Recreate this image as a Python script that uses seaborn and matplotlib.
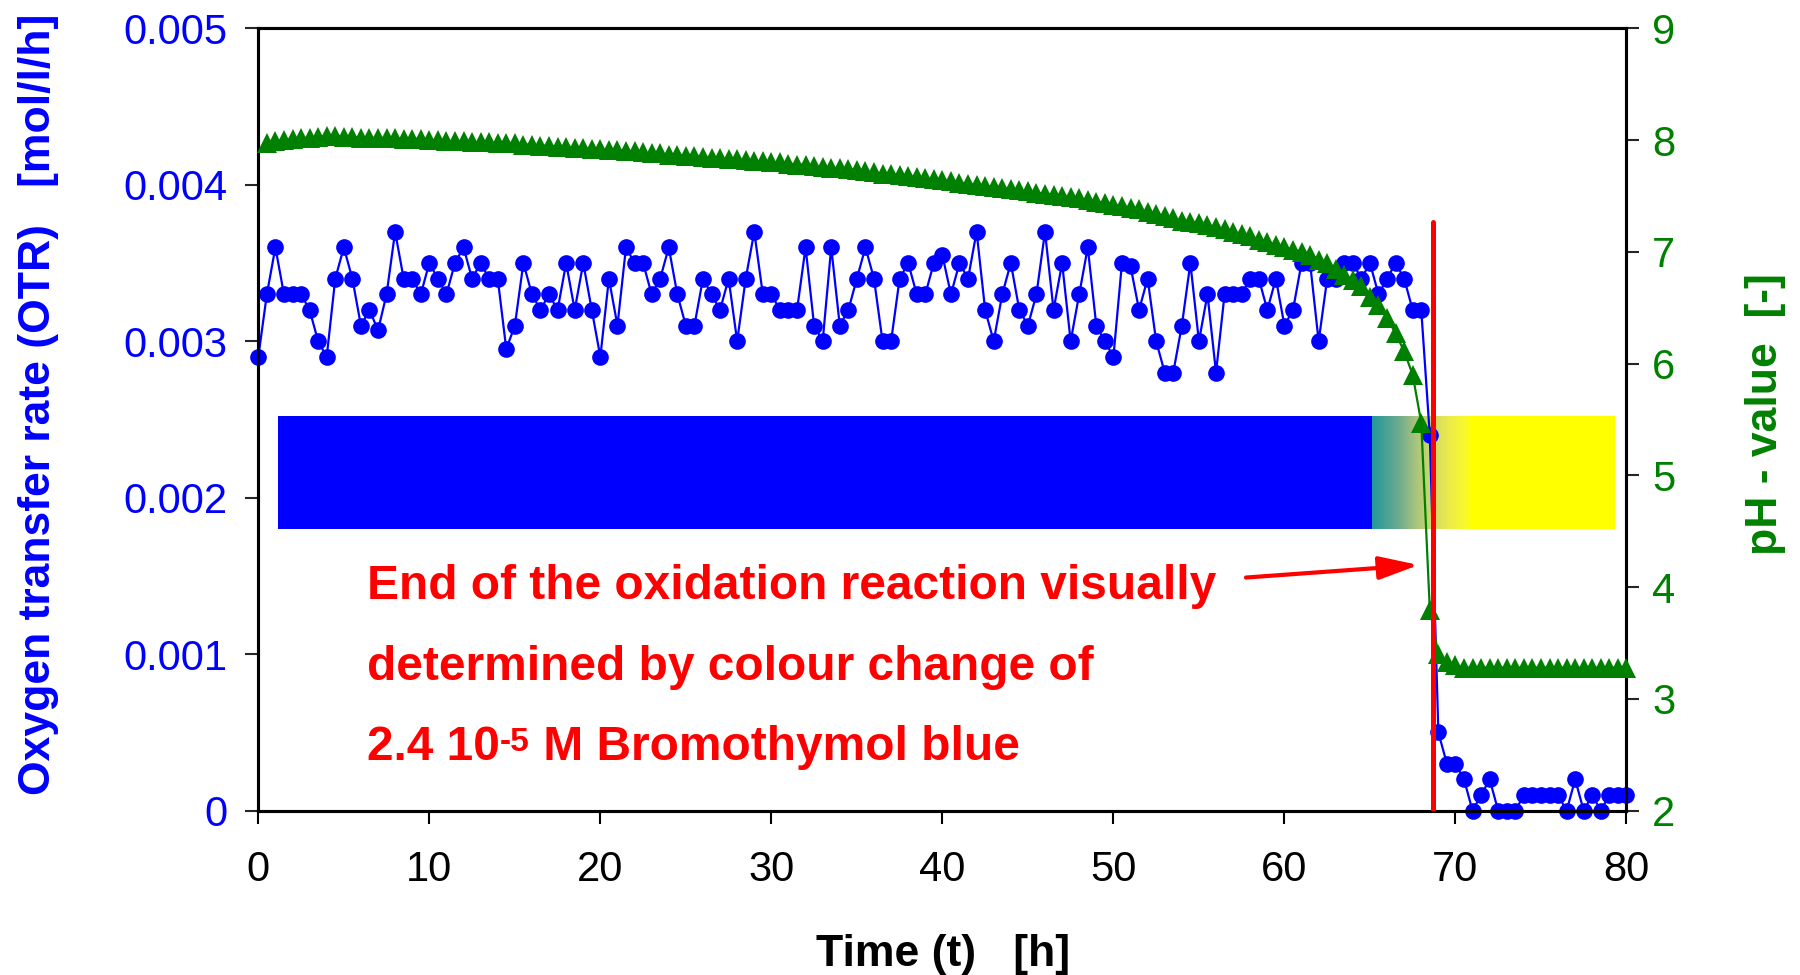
"""OTR and pH during the oxidation, with the Bromothymol blue colour change band."""

import matplotlib
matplotlib.use("Agg")
import matplotlib.pyplot as plt
from matplotlib.colors import LinearSegmentedColormap
import numpy as np
import seaborn as sns

# OTR was logged every 0.5 h from 0 to 80 h
otr_time_h = np.arange(0, 80.5, 0.5)
otr_mol_l_h = [
    0.0029, 0.0033, 0.0036, 0.0033, 0.0033, 0.0033, 0.0032, 0.0030, 0.0029, 0.0034,
    0.0036, 0.0034, 0.0031, 0.0032, 0.00307, 0.0033, 0.0037, 0.0034, 0.0034, 0.0033,
    0.0035, 0.0034, 0.0033, 0.0035, 0.0036, 0.0034, 0.0035, 0.0034, 0.0034, 0.00295,
    0.0031, 0.0035, 0.0033, 0.0032, 0.0033, 0.0032, 0.0035, 0.0032, 0.0035, 0.0032,
    0.0029, 0.0034, 0.0031, 0.0036, 0.0035, 0.0035, 0.0033, 0.0034, 0.0036, 0.0033,
    0.0031, 0.0031, 0.0034, 0.0033, 0.0032, 0.0034, 0.0030, 0.0034, 0.0037, 0.0033,
    0.0033, 0.0032, 0.0032, 0.0032, 0.0036, 0.0031, 0.0030, 0.0036, 0.0031, 0.0032,
    0.0034, 0.0036, 0.0034, 0.0030, 0.0030, 0.0034, 0.0035, 0.0033, 0.0033, 0.0035,
    0.00355, 0.0033, 0.0035, 0.0034, 0.0037, 0.0032, 0.0030, 0.0033, 0.0035, 0.0032,
    0.0031, 0.0033, 0.0037, 0.0032, 0.0035, 0.0030, 0.0033, 0.0036, 0.0031, 0.0030,
    0.0029, 0.0035, 0.00348, 0.0032, 0.0034, 0.0030, 0.0028, 0.0028, 0.0031, 0.0035,
    0.0030, 0.0033, 0.0028, 0.0033, 0.0033, 0.0033, 0.0034, 0.0034, 0.0032, 0.0034,
    0.0031, 0.0032, 0.0035, 0.0035, 0.0030, 0.0034, 0.0034, 0.0035, 0.0035, 0.0034,
    0.0035, 0.0033, 0.0034, 0.0035, 0.0034, 0.0032, 0.0032, 0.0024, 0.0005, 0.0003,
    0.0003, 0.0002, 0.0000, 0.0001, 0.0002, 0.0000, 0.0000, 0.0000, 0.0001, 0.0001,
    0.0001, 0.0001, 0.0001, 0.0000, 0.0002, 0.0000, 0.0001, 0.0000, 0.0001, 0.0001,
    0.0001,
]

# pH logged every 0.5 h from 0.5 to 80 h
ph_time_h = np.arange(0.5, 80.5, 0.5)
ph_value = [
    7.97, 7.99, 8.00, 8.01, 8.02, 8.02, 8.03, 8.04, 8.04, 8.03,
    8.03, 8.02, 8.02, 8.02, 8.02, 8.02, 8.01, 8.01, 8.01, 8.00,
    8.00, 7.99, 7.99, 7.99, 7.98, 7.98, 7.98, 7.97, 7.97, 7.97,
    7.96, 7.96, 7.95, 7.95, 7.94, 7.94, 7.93, 7.93, 7.92, 7.92,
    7.91, 7.91, 7.90, 7.90, 7.89, 7.88, 7.88, 7.87, 7.87, 7.86,
    7.86, 7.85, 7.84, 7.84, 7.83, 7.83, 7.82, 7.81, 7.81, 7.80,
    7.80, 7.79, 7.78, 7.78, 7.77, 7.76, 7.75, 7.75, 7.74, 7.73,
    7.72, 7.71, 7.70, 7.70, 7.69, 7.68, 7.67, 7.66, 7.65, 7.64,
    7.63, 7.62, 7.61, 7.60, 7.59, 7.58, 7.57, 7.56, 7.55, 7.54,
    7.53, 7.52, 7.51, 7.50, 7.49, 7.48, 7.46, 7.45, 7.44, 7.42,
    7.41, 7.39, 7.38, 7.36, 7.34, 7.32, 7.30, 7.28, 7.27, 7.26,
    7.24, 7.22, 7.20, 7.18, 7.16, 7.14, 7.11, 7.09, 7.06, 7.04,
    7.02, 7.00, 6.97, 6.93, 6.90, 6.85, 6.79, 6.75, 6.69, 6.60,
    6.52, 6.41, 6.27, 6.11, 5.90, 5.47, 3.80, 3.40, 3.33, 3.30,
    3.28, 3.28, 3.28, 3.28, 3.28, 3.28, 3.28, 3.28, 3.28, 3.28,
    3.28, 3.28, 3.28, 3.28, 3.28, 3.28, 3.28, 3.28, 3.28, 3.28,
]

time_ticks = [0, 10, 20, 30, 40, 50, 60, 70, 80]
otr_ticks = [0, 0.001, 0.002, 0.003, 0.004, 0.005]
otr_tick_labels = ["0", "0.001", "0.002", "0.003", "0.004", "0.005"]
ph_ticks = [2, 3, 4, 5, 6, 7, 8, 9]

# colour of the indicator: blue -> gradient -> yellow (time in h)
band_blue_start = 1.15
band_grad_start = 65.1
band_grad_end = 70.8
band_yellow_end = 79.35
band_otr_low, band_otr_high = 0.0018, 0.00252

end_time_h = 68.7
note_lines = [
    "End of the oxidation reaction visually",
    "determined by colour change of",
]
note_last = ("2.4 10", "-5", " M Bromothymol blue")

BLUE = "#0000FF"
GREEN = "#008000"
RED = "#FF0000"

sns.set_style("ticks")
plt.rcParams["font.family"] = ["Liberation Sans", "DejaVu Sans"]

fig, ax = plt.subplots(figsize=(18, 9.75), dpi=100)
fig.subplots_adjust(left=0.1435, right=0.9036, bottom=0.1685, top=0.971)
ax2 = ax.twinx()

# indicator colour band
ax.fill_between([band_blue_start, band_grad_start], band_otr_low, band_otr_high,
                color=BLUE, linewidth=0, zorder=1)
grad_cmap = LinearSegmentedColormap.from_list(
    "btb", [(0.0, "#239999"), (0.25, "#66a890"), (0.45, "#a8c47e"),
            (0.6, "#cfd86a"), (0.8, "#ecec48"), (1.0, "#fdfd20")])
ax.imshow(np.linspace(0, 1, 256).reshape(1, -1), cmap=grad_cmap, aspect="auto",
          extent=[band_grad_start, band_grad_end, band_otr_low, band_otr_high],
          zorder=1, interpolation="bilinear")
ax.fill_between([band_grad_end, band_yellow_end], band_otr_low, band_otr_high,
                color="#FFFF00", linewidth=0, zorder=1)

sns.lineplot(x=otr_time_h, y=otr_mol_l_h, ax=ax, color=BLUE, marker="o",
             markersize=12, markeredgewidth=0, linewidth=1.6, clip_on=False, zorder=3)
sns.lineplot(x=ph_time_h, y=ph_value, ax=ax2, color=GREEN, marker="^",
             markersize=14, markeredgewidth=0, linewidth=1.6, clip_on=False, zorder=3)

ax.set_xlim(0, 80)
ax.set_ylim(0, 0.005)
ax2.set_ylim(2, 9)
ax.set_xticks(time_ticks)
ax.set_yticks(otr_ticks, otr_tick_labels)
ax2.set_yticks(ph_ticks)

# end of reaction marker
ax2.axvline(end_time_h, ymin=0, ymax=0.753, color=RED, linewidth=3.6, zorder=6)
ax.annotate("", xy=(67.85, 0.00157), xytext=(57.75, 0.00149),
            arrowprops=dict(arrowstyle="-|>,head_length=1.1,head_width=0.32",
                            color=RED, lw=3, shrinkA=0, shrinkB=0,
                            mutation_scale=22))

note_font = dict(color=RED, fontsize=34.5, fontweight="bold")
for line, y in zip(note_lines, [0.00135, 0.000838]):
    ax.text(6.35, y, line, va="baseline", ha="left", **note_font)
t1 = ax.text(6.35, 0.000325, note_last[0], va="baseline", ha="left", **note_font)
t2 = ax.annotate(note_last[1], xy=(1, 0.95), xycoords=t1, va="top", ha="left",
                 color=RED, fontsize=24, fontweight="bold")
ax.annotate(note_last[2], xy=(1, 0), xycoords=(t2, t1), va="bottom", ha="left",
            **note_font)

# axis styling
for a in (ax, ax2):
    for side in a.spines.values():
        side.set_color("black")
        side.set_linewidth(2.2)
    a.grid(False)
ax.tick_params(axis="both", direction="out", length=9.5, width=1.5, labelsize=30)
ax.tick_params(axis="x", pad=19, colors="black")
ax.tick_params(axis="y", pad=13, labelcolor=BLUE)
ax2.tick_params(axis="y", direction="out", length=9.5, width=1.5, labelsize=30,
                pad=9, labelcolor=GREEN)

ax.set_xlabel("Time (t)   [h]", fontsize=32, fontweight="bold", color="black")
ax.set_ylabel("Oxygen transfer rate (OTR)   [mol/l/h]", fontsize=32,
              fontweight="bold", color=BLUE)
ax2.set_ylabel("pH - value  [-]", fontsize=32, fontweight="bold", color=GREEN,
               rotation=90)
ax.xaxis.set_label_coords(0.5005, -0.157)
ax.yaxis.set_label_coords(-0.146, 0.519)
ax2.yaxis.set_label_coords(1.0865, 0.507)

fig.savefig("out.png", dpi=100)
